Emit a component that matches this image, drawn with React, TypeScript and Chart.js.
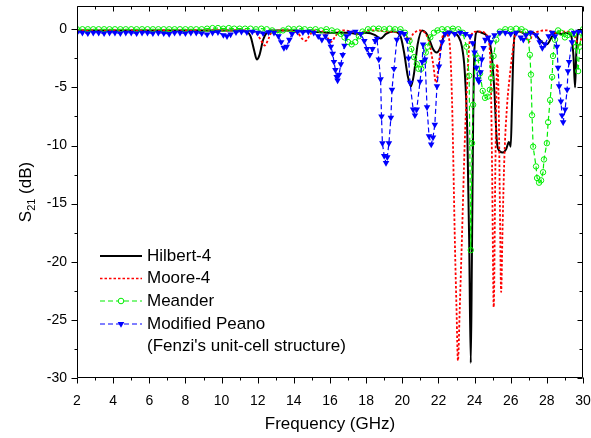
import React, { useEffect, useRef } from "react";
import { Chart, registerables } from "chart.js";

Chart.register(...registerables);

const FONT = '"Liberation Sans", Arial, Helvetica, sans-serif';

// Frequency (GHz) / S21 (dB) values
const hilbertF = [2, 3, 4, 5, 6, 7, 8, 9, 10, 10.5, 11, 11.4, 11.6, 11.8, 11.95, 12.1, 12.3, 12.5, 12.7, 13, 14, 15, 16, 17, 17.5, 18, 18.5, 18.8, 19.1, 19.5, 19.9, 20.1, 20.3, 20.48, 20.65, 20.85, 21.1, 21.3, 21.5, 21.7, 21.9, 22.1, 22.3, 22.5, 22.8, 23.1, 23.3, 23.45, 23.6, 23.7, 23.79, 23.85, 23.92, 24.0, 24.15, 24.4, 24.7, 24.85, 24.97, 25.1, 25.24, 25.4, 25.57, 25.75, 25.9, 26.0, 26.07, 26.15, 26.25, 26.5, 26.8, 27.1, 27.4, 27.6, 27.8, 28.0, 28.3, 28.5, 28.8, 29.1, 29.35, 29.48, 29.56, 29.63, 29.72, 29.85, 30];
const hilbertDb = [-0.1, -0.1, -0.1, -0.1, -0.1, -0.1, -0.1, -0.1, -0.1, -0.1, -0.1, -0.2, -0.6, -1.8, -2.6, -2.2, -0.9, -0.3, -0.1, -0.1, -0.1, -0.2, -0.3, -0.3, -0.4, -0.3, -0.5, -0.8, -0.4, -0.2, -0.6, -2.0, -4.0, -4.9, -3.8, -1.3, -0.1, -0.3, -0.9, -1.7, -2.0, -1.6, -0.6, -0.2, -0.3, -0.6, -1.5, -3.5, -9, -18, -28.7, -20, -8, -1.5, -0.2, -0.3, -0.6, -1.2, -2.6, -5.4, -9.8, -10.5, -10.6, -10.3, -9.7, -10.1, -6.5, -2.0, -0.3, -0.2, -0.4, -0.2, -0.5, -0.9, -1.2, -1.3, -0.6, -0.3, -0.4, -0.3, -0.6, -2.5, -5.0, -2.0, -0.3, -0.1, -0.2];

const mooreF = [2, 4, 6, 8, 10, 11, 11.8, 12.0, 12.2, 12.4, 12.6, 12.8, 13.5, 14.2, 14.45, 14.65, 14.85, 15.1, 15.6, 15.85, 16.05, 16.3, 16.6, 17.2, 17.6, 17.9, 18.5, 19.2, 19.8, 20.2, 20.4, 20.6, 21.0, 21.3, 21.5, 21.7, 21.87, 22.0, 22.15, 22.35, 22.5, 22.62, 22.75, 22.92, 23.0, 23.08, 23.18, 23.3, 23.45, 23.58, 23.7, 23.85, 24.1, 24.4, 24.7, 24.88, 24.97, 25.06, 25.15, 25.25, 25.33, 25.4, 25.47, 25.55, 25.65, 25.8, 25.95, 26.1, 26.25, 26.5, 26.8, 27.0, 27.2, 27.5, 28.0, 28.5, 29.0, 29.4, 29.6, 29.78, 29.9, 30];
const mooreDb = [-0.1, -0.1, -0.1, -0.1, -0.1, -0.1, -0.2, -0.5, -1.0, -1.4, -0.8, -0.2, -0.1, -0.3, -0.8, -1.0, -0.6, -0.1, -0.2, -0.7, -1.1, -0.6, -0.1, -0.2, -0.5, -0.2, -0.1, -0.2, -0.3, -0.6, -0.9, -0.4, -0.1, -0.4, -1.2, -2.9, -4.6, -3.3, -1.2, -0.3, -0.5, -1.2, -6, -19, -24, -28.5, -24, -18, -10, -5, -1.5, -0.4, -0.2, -0.2, -0.6, -3, -12, -23.9, -12, -3, -6, -15, -22.6, -17, -11, -6.5, -4, -2, -0.5, -0.2, -0.5, -1.1, -0.5, -0.2, -0.1, -0.3, -0.2, -0.3, -0.8, -1.5, -0.8, -0.3];

const meanderF = [2.0, 2.3, 2.6, 2.9, 3.2, 3.5, 3.8, 4.1, 4.4, 4.7, 5.0, 5.3, 5.6, 5.9, 6.2, 6.5, 6.8, 7.1, 7.4, 7.7, 8.0, 8.3, 8.6, 8.9, 9.2, 9.5, 9.8, 10.1, 10.4, 10.7, 11.0, 11.3, 11.6, 11.9, 12.2, 12.5, 12.8, 13.1, 13.4, 13.7, 14.0, 14.3, 14.6, 14.9, 15.2, 15.5, 15.8, 16.1, 16.4, 16.6, 16.8, 17.0, 17.2, 17.4, 17.6, 17.8, 18.1, 18.4, 18.7, 19.0, 19.3, 19.6, 19.9, 20.15, 20.4, 20.5, 20.65, 20.8, 20.9, 21.05, 21.2, 21.3, 21.4, 21.55, 21.75, 21.95, 22.2, 22.5, 22.8, 23.1, 23.35, 23.55, 23.7, 23.79, 23.86, 23.92, 24.05, 24.19, 24.3, 24.45, 24.58, 24.72, 24.85, 24.92, 24.98, 25.05, 25.2, 25.4, 25.7, 26.0, 26.3, 26.6, 26.8, 26.96, 27.06, 27.12, 27.18, 27.24, 27.4, 27.46, 27.57, 27.68, 27.79, 27.84, 28.0, 28.07, 28.18, 28.29, 28.34, 28.45, 28.62, 28.8, 29.0, 29.15, 29.35, 29.5, 29.62, 29.73, 29.82, 29.92, 30.0];
const meanderDb = [0, 0, 0, 0, 0, 0, 0, 0, 0, 0, 0, 0, 0, 0, 0, 0, 0, 0, 0, 0, 0, 0, 0, 0, 0.05, 0.1, 0.1, 0.05, 0.1, 0.05, 0.05, 0.05, 0.05, 0, 0.05, 0, -0.1, -0.3, -0.1, 0.05, 0, 0.05, 0, -0.05, 0, -0.1, 0, -0.1, -0.2, -0.4, -0.7, -1.1, -1.3, -1.1, -0.6, -0.2, 0, 0.05, 0.05, 0, 0.05, 0, 0, -0.3, -1.0, -1.7, -2.4, -3.0, -3.4, -3.4, -2.8, -2.0, -1.5, -0.7, -0.3, -0.1, 0, 0, 0.05, 0, -0.3, -1.5, -4, -19, -9.8, -6.5, -2.2, -2.5, -3.8, -5.3, -5.9, -5.8, -5.2, -4.2, -3.2, -2.3, -0.9, -0.2, 0, 0, 0.05, 0, -0.2, -0.7, -2.2, -3.9, -7.4, -10.1, -11.8, -12.8, -13.2, -13.0, -12.3, -11.2, -9.8, -8.0, -6.1, -4.1, -2.3, -0.9, -0.1, -0.3, -0.7, -0.5, -0.2, -0.4, -1.5, -3.6, -1.5, -0.3, 0];

const peanoF = [2.0, 2.3, 2.6, 2.9, 3.2, 3.5, 3.8, 4.1, 4.4, 4.7, 5.0, 5.3, 5.6, 5.9, 6.2, 6.5, 6.8, 7.1, 7.4, 7.7, 8.0, 8.3, 8.6, 8.9, 9.2, 9.5, 9.8, 10.1, 10.3, 10.5, 10.8, 11.1, 11.4, 11.7, 12.0, 12.3, 12.6, 12.9, 13.15, 13.3, 13.45, 13.6, 13.75, 13.9, 14.2, 14.5, 14.8, 15.1, 15.35, 15.55, 15.75, 15.95, 16.05, 16.15, 16.22, 16.3, 16.37, 16.42, 16.5, 16.6, 16.7, 16.8, 16.92, 17.1, 17.4, 17.7, 17.9, 18.05, 18.2, 18.35, 18.5, 18.6, 18.7, 18.8, 18.85, 18.9, 19.0, 19.1, 19.17, 19.26, 19.37, 19.43, 19.54, 19.7, 19.9, 20.1, 20.26, 20.35, 20.43, 20.6, 20.7, 20.8, 20.98, 21.1, 21.15, 21.26, 21.37, 21.48, 21.6, 21.7, 21.8, 21.92, 22.03, 22.2, 22.37, 22.6, 22.9, 23.2, 23.5, 23.75, 23.9, 24.0, 24.1, 24.18, 24.24, 24.33, 24.4, 24.5, 24.6, 24.75, 24.9, 25.1, 25.4, 25.7, 26.0, 26.3, 26.55, 26.7, 26.85, 27.1, 27.4, 27.6, 27.75, 27.9, 28.1, 28.3, 28.45, 28.56, 28.62, 28.68, 28.78, 28.84, 28.9, 29.01, 29.12, 29.17, 29.23, 29.39, 29.5, 29.75, 30.0];
const peanoDb = [-0.3, -0.3, -0.35, -0.3, -0.3, -0.35, -0.3, -0.3, -0.35, -0.3, -0.3, -0.35, -0.3, -0.3, -0.35, -0.3, -0.35, -0.4, -0.3, -0.3, -0.35, -0.3, -0.3, -0.35, -0.45, -0.3, -0.25, -0.5, -0.6, -0.45, -0.25, -0.2, -0.25, -0.2, -0.3, -0.35, -0.25, -0.3, -0.6, -1.1, -1.6, -1.5, -0.9, -0.4, -0.2, -0.25, -0.2, -0.3, -0.6, -0.9, -0.6, -1.0, -1.5, -2.1, -2.8, -3.5, -4.1, -4.4, -3.9, -3.0, -2.2, -1.4, -0.6, -0.3, -0.2, -0.4, -1.0, -1.7, -2.2, -1.7, -1.0, -0.8, -2.6, -4.3, -7.5, -9.8, -10.9, -11.5, -11.0, -9.8, -7.6, -5.2, -3.4, -0.9, -0.3, -0.4, -0.9, -2.5, -4.6, -6.9, -7.4, -6.9, -4.5, -2.8, -1.3, -2.6, -6.7, -9.2, -9.9, -9.3, -8.2, -4.9, -3.2, -1.1, -0.4, -0.3, -0.4, -0.3, -0.4, -0.6, -1.2, -2.0, -3.3, -4.3, -4.5, -3.7, -2.6, -1.6, -0.9, -0.7, -1.1, -0.5, -0.3, -0.3, -0.4, -0.3, -0.7, -0.9, -0.5, -0.3, -0.5, -1.1, -1.6, -1.3, -0.6, -0.3, -0.6, -1.5, -3.3, -4.9, -6.2, -7.4, -8.0, -6.9, -5.2, -3.6, -2.8, -1.1, -0.3, -0.2, -0.3];

const seriesLabels = ["Hilbert-4", "Moore-4", "Meander", "Modified Peano"];
const legendExtra = "(Fenzi's unit-cell structure)";
const xTitle = "Frequency (GHz)";

const pts = (f: number[], d: number[]) => f.map((x, i) => ({ x, y: d[i] }));

const framePlugin = {
  id: "frameTicks",
  afterDraw(chart: any) {
    const { ctx, chartArea: a, scales } = chart;
    const xs = scales.x;
    const ys = scales.y;
    const L = Math.round(a.left) + 0.5;
    const R = Math.round(a.right) - 0.5;
    const T = Math.round(a.top) + 0.5;
    const B = Math.round(a.bottom) - 0.5;
    ctx.save();
    ctx.strokeStyle = "#000";
    ctx.lineWidth = 1;
    ctx.beginPath();
    ctx.rect(L, T, R - L, B - T);
    for (let v = 2; v <= 30; v += 1) {
      const px = Math.round(xs.getPixelForValue(v)) + 0.5;
      const major = v % 2 === 0;
      ctx.moveTo(px, B);
      ctx.lineTo(px, B + (major ? 6 : 3));
      ctx.moveTo(px, T);
      ctx.lineTo(px, T + (major ? 5 : 3));
    }
    for (let v = -30; v <= 0; v += 2.5) {
      const py = Math.round(ys.getPixelForValue(v)) + 0.5;
      const major = v % 5 === 0;
      ctx.moveTo(L, py);
      ctx.lineTo(L - (major ? 6 : 3), py);
      ctx.moveTo(R, py);
      ctx.lineTo(R - (major ? 5 : 3), py);
    }
    ctx.stroke();

    ctx.fillStyle = "#000";
    ctx.font = `17px ${FONT}`;
    ctx.textAlign = "center";
    ctx.textBaseline = "middle";
    ctx.fillText(xTitle, (a.left + a.right) / 2, 424);

    ctx.save();
    ctx.translate(25, (a.top + a.bottom) / 2);
    ctx.rotate(-Math.PI / 2);
    ctx.textAlign = "left";
    ctx.textBaseline = "alphabetic";
    const big = `17px ${FONT}`;
    const small = `11px ${FONT}`;
    ctx.font = big;
    const wS = ctx.measureText("S").width;
    const wRest = ctx.measureText(" (dB)").width;
    ctx.font = small;
    const wSub = ctx.measureText("21").width;
    const total = wS + wSub + wRest;
    let x0 = -total / 2;
    const base = 6;
    ctx.font = big;
    ctx.fillText("S", x0, base);
    x0 += wS;
    ctx.font = small;
    ctx.fillText("21", x0, base + 4);
    x0 += wSub;
    ctx.font = big;
    ctx.fillText(" (dB)", x0, base);
    ctx.restore();

    const rows = [256, 278.5, 301, 324];
    const sx0 = 100, sx1 = 142, tx = 147;
    const styles = [
      { color: "#000000", dash: [], width: 2, marker: "" },
      { color: "#ff0000", dash: [2.5, 2], width: 1.6, marker: "" },
      { color: "#00ee00", dash: [5, 3], width: 1.2, marker: "circle" },
      { color: "#0000ff", dash: [5, 3], width: 1.2, marker: "triangle" },
    ];
    ctx.font = `17px ${FONT}`;
    ctx.textAlign = "left";
    ctx.textBaseline = "middle";
    rows.forEach((y, i) => {
      const s = styles[i];
      ctx.save();
      ctx.strokeStyle = s.color;
      ctx.lineWidth = s.width;
      ctx.setLineDash(s.dash);
      ctx.beginPath();
      ctx.moveTo(sx0, y);
      ctx.lineTo(sx1, y);
      ctx.stroke();
      ctx.setLineDash([]);
      const cx = (sx0 + sx1) / 2;
      if (s.marker === "circle") {
        ctx.fillStyle = "#fff";
        ctx.beginPath();
        ctx.arc(cx, y, 2.8, 0, Math.PI * 2);
        ctx.fill();
        ctx.lineWidth = 1;
        ctx.stroke();
      } else if (s.marker === "triangle") {
        ctx.fillStyle = s.color;
        ctx.beginPath();
        ctx.moveTo(cx - 3.3, y - 2);
        ctx.lineTo(cx + 3.3, y - 2);
        ctx.lineTo(cx, y + 3.8);
        ctx.closePath();
        ctx.fill();
      }
      ctx.restore();
      ctx.fillStyle = "#000";
      ctx.fillText(seriesLabels[i], tx, y);
    });
    ctx.fillText(legendExtra, tx, 346.5);
    ctx.restore();
  },
};

export default function App() {
  const ref = useRef<HTMLCanvasElement>(null);
  useEffect(() => {
    const canvas = ref.current;
    if (!canvas) return;
    const chart = new Chart(canvas, {
      type: "line",
      data: {
        datasets: [
          {
            label: seriesLabels[0],
            data: pts(hilbertF, hilbertDb),
            borderColor: "#000000",
            borderWidth: 2,
            pointRadius: 0,
            cubicInterpolationMode: "monotone",
            order: 4,
          },
          {
            label: seriesLabels[1],
            data: pts(mooreF, mooreDb),
            borderColor: "#ff0000",
            borderWidth: 1.8,
            borderDash: [2.5, 2],
            pointRadius: 0,
            cubicInterpolationMode: "monotone",
            order: 3,
          },
          {
            label: seriesLabels[2],
            data: pts(meanderF, meanderDb),
            borderColor: "#00ee00",
            borderWidth: 1.2,
            borderDash: [5, 3],
            pointStyle: "circle",
            pointRadius: 2.7,
            pointBorderWidth: 1,
            pointBorderColor: "#00ee00",
            pointBackgroundColor: "rgba(255,255,255,0)",
            order: 2,
          },
          {
            label: seriesLabels[3],
            data: pts(peanoF, peanoDb),
            borderColor: "#0000ff",
            borderWidth: 1.2,
            borderDash: [5, 3],
            pointStyle: "triangle",
            pointRotation: 180,
            pointRadius: 3.8,
            pointBorderWidth: 0,
            pointBackgroundColor: "#0000ff",
            pointBorderColor: "#0000ff",
            order: 1,
          },
        ],
      },
      options: {
        animation: false,
        responsive: true,
        maintainAspectRatio: false,
        layout: { padding: { top: 6, right: 8, left: 0, bottom: 0 } },
        plugins: { legend: { display: false }, tooltip: { enabled: false } },
        scales: {
          x: {
            type: "linear",
            min: 2,
            max: 30,
            afterFit: (s: any) => {
              s.height = 60;
            },
            grid: { display: false, drawTicks: true, tickLength: 15 },
            border: { display: false },
            ticks: {
              stepSize: 2,
              includeBounds: false,
              padding: 0,
              color: "#000",
              maxRotation: 0,
              autoSkip: false,
              font: { family: FONT, size: 14, lineHeight: 1.2 },
            },
          },
          y: {
            type: "linear",
            min: -30,
            max: 2,
            afterFit: (s: any) => {
              s.width = 77;
            },
            grid: { display: false, drawTicks: true, tickLength: 10 },
            border: { display: false },
            ticks: {
              stepSize: 5,
              includeBounds: false,
              padding: 0,
              color: "#000",
              font: { family: FONT, size: 14, lineHeight: 0.8 },
            },
          },
        },
      },
      plugins: [framePlugin],
    } as any);
    return () => chart.destroy();
  }, []);
  return (
    <div style={{ position: "absolute", left: 0, top: 0, width: 591, height: 438 }}>
      <canvas ref={ref} />
    </div>
  );
}
